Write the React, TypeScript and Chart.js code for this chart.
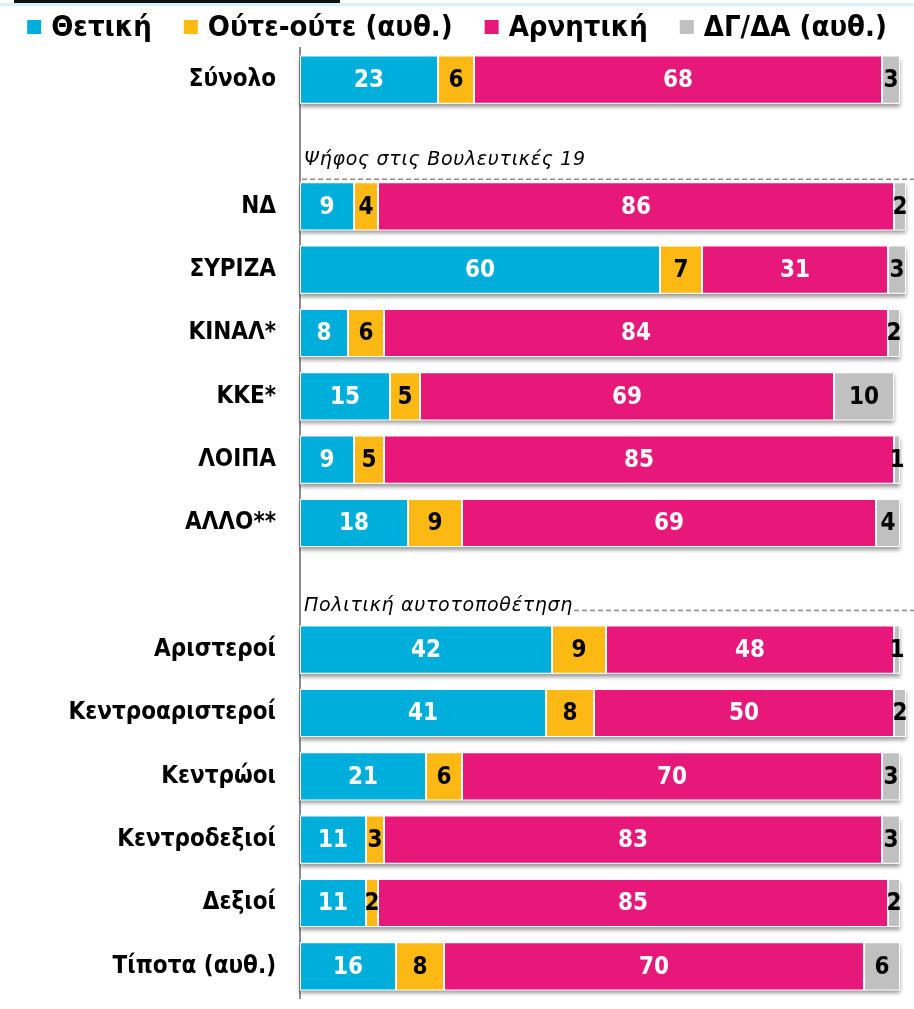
import React, { useEffect, useRef } from 'react';
import { Chart, registerables } from 'chart.js';
Chart.register(...registerables);

const categories = ['Σύνολο', '', 'ΝΔ', 'ΣΥΡΙΖΑ', 'ΚΙΝΑΛ*', 'ΚΚΕ*', 'ΛΟΙΠΑ', 'ΑΛΛΟ**', '', 'Αριστεροί', 'Κεντροαριστεροί', 'Κεντρώοι', 'Κεντροδεξιοί', 'Δεξιοί', 'Τίποτα (αυθ.)'];
const positive = [23, null, 9, 60, 8, 15, 9, 18, null, 42, 41, 21, 11, 11, 16];
const neutral = [6, null, 4, 7, 6, 5, 5, 9, null, 9, 8, 6, 3, 2, 8];
const negative = [68, null, 86, 31, 84, 69, 85, 69, null, 48, 50, 70, 83, 85, 70];
const dkna = [3, null, 2, 3, 2, 10, 1, 4, null, 1, 2, 3, 3, 2, 6];
const seriesNames = ['Θετική', 'Ούτε-ούτε (αυθ.)', 'Αρνητική', 'ΔΓ/ΔΑ (αυθ.)'];
const sectionTitles = ['Ψήφος στις Βουλευτικές 19', 'Πολιτική αυτοτοποθέτηση'];
const sectionFirstCategory = ['ΝΔ', 'Αριστεροί'];

const seriesColors = ['#00AEDB', '#FDB913', '#E8177A', '#C0C0C0'];
const valueColors = ['#ffffff', '#000000', '#ffffff', '#000000'];
const COND = '"DejaVu Sans Condensed", "DejaVu Sans", sans-serif';
const W = 914;
const H = 1009;

const legendPlugin = {
  id: 'customLegend',
  afterDraw(chart: any) {
    const ctx = chart.ctx;
    ctx.save();
    ctx.font = `bold 29px ${COND}`;
    ctx.textBaseline = 'middle';
    ctx.textAlign = 'left';
    const box = 14;
    const gapBoxText = 10;
    const gapItems = 32;
    const widths = chart.data.datasets.map((ds: any) => ctx.measureText(ds.label).width);
    const total = widths.reduce((a: number, w: number) => a + box + gapBoxText + w, 0) + gapItems * (widths.length - 1);
    let x = (chart.width - total) / 2;
    const cy = 27;
    chart.data.datasets.forEach((ds: any, i: number) => {
      ctx.fillStyle = ds.backgroundColor;
      ctx.fillRect(x, cy - 7, box, box);
      ctx.fillStyle = '#000';
      ctx.fillText(ds.label, x + box + gapBoxText, cy + 1);
      x += box + gapBoxText + widths[i] + gapItems;
    });
    ctx.restore();
  },
};

const shadowPlugin = {
  id: 'barShadow',
  beforeDatasetsDraw(chart: any) {
    const ctx = chart.ctx;
    const first = chart.getDatasetMeta(0);
    const last = chart.getDatasetMeta(chart.data.datasets.length - 1);
    first.data.forEach((bar: any, j: number) => {
      if (positive[j] == null) return;
      const b = bar.getProps(['base', 'y', 'height'], true);
      const e = last.data[j].getProps(['x'], true);
      ctx.save();
      ctx.shadowColor = 'rgba(0,0,0,0.4)';
      ctx.shadowBlur = 4;
      ctx.shadowOffsetY = 3;
      ctx.fillStyle = '#ffffff';
      ctx.fillRect(b.base, b.y - b.height / 2, e.x - b.base, b.height);
      ctx.restore();
    });
  },
};

const valueLabelPlugin = {
  id: 'valueLabels',
  afterDatasetsDraw(chart: any) {
    const ctx = chart.ctx;
    ctx.save();
    ctx.font = `bold 24px ${COND}`;
    ctx.textAlign = 'center';
    ctx.textBaseline = 'middle';
    chart.data.datasets.forEach((ds: any, i: number) => {
      const meta = chart.getDatasetMeta(i);
      meta.data.forEach((bar: any, j: number) => {
        const v = ds.data[j];
        if (v == null) return;
        const p = bar.getProps(['x', 'base', 'y'], true);
        ctx.fillStyle = valueColors[i];
        ctx.fillText(String(v), (p.x + p.base) / 2, p.y + 1);
      });
    });
    ctx.restore();
  },
};

const sectionPlugin = {
  id: 'sections',
  afterDraw(chart: any) {
    const ctx = chart.ctx;
    const y = chart.scales.y;
    const area = chart.chartArea;
    const barH = chart.getDatasetMeta(0).data[0].getProps(['height'], true).height;
    ctx.save();
    ctx.font = `oblique 19px "DejaVu Sans", sans-serif`;
    (ctx as any).letterSpacing = '0.7px';
    ctx.textBaseline = 'alphabetic';
    ctx.textAlign = 'left';
    ctx.strokeStyle = '#8a8a8a';
    ctx.lineWidth = 1.5;
    ctx.setLineDash([5, 3]);
    sectionTitles.forEach((t, k) => {
      const idx = categories.indexOf(sectionFirstCategory[k]);
      const top = y.getPixelForValue(idx) - barH / 2;
      ctx.fillStyle = '#000';
      if (k === 0) {
        ctx.fillText(t, area.left + 4, top - 17);
        ctx.beginPath();
        ctx.moveTo(area.left + 2, top - 3);
        ctx.lineTo(chart.width, top - 3);
        ctx.stroke();
      } else {
        ctx.fillText(t, area.left + 4, top - 15);
        const w = ctx.measureText(t).width;
        ctx.beginPath();
        ctx.moveTo(area.left + 4 + w + 1, top - 15);
        ctx.lineTo(chart.width, top - 15);
        ctx.stroke();
      }
    });
    ctx.restore();
  },
};

const topDecorPlugin = {
  id: 'topDecor',
  beforeDraw(chart: any) {
    const ctx = chart.ctx;
    ctx.save();
    ctx.fillStyle = '#ffffff';
    ctx.fillRect(0, 0, chart.width, chart.height);
    ctx.fillStyle = '#D6F1FB';
    ctx.fillRect(0, 3, chart.width, 3);
    ctx.fillStyle = '#111';
    ctx.fillRect(14, 0, 326, 3);
    ctx.restore();
  },
};

export default function App() {
  const ref = useRef<HTMLCanvasElement | null>(null);
  useEffect(() => {
    if (!ref.current) return;
    const values = [positive, neutral, negative, dkna];
    const chart = new Chart(ref.current, {
      type: 'bar',
      data: {
        labels: categories,
        datasets: values.map((d, i) => ({
          label: seriesNames[i],
          data: d,
          backgroundColor: seriesColors[i],
          borderColor: '#ffffff',
          borderWidth: 1,
          borderSkipped: false,
          categoryPercentage: 1,
          barPercentage: 0.76,
          clip: false,
        })),
      },
      options: {
        indexAxis: 'y',
        animation: false,
        responsive: false,
        devicePixelRatio: 1,
        layout: { padding: { left: 0, right: 14, top: 48, bottom: 11 } },
        plugins: {
          tooltip: { enabled: false },
          legend: { display: false },
        },
        scales: {
          x: { stacked: true, min: 0, max: 100, display: false },
          y: {
            stacked: true,
            grid: { display: false, drawTicks: false },
            border: { display: true, color: '#8c8c8c', width: 2 },
            ticks: {
              font: { family: COND, size: 24, weight: 'bold' },
              color: '#000',
              padding: 24,
              autoSkip: false,
            },
            afterFit: (s: any) => {
              s.width = 300;
              s.paddingTop = 0;
              s.paddingBottom = 0;
            },
          },
        },
      },
      plugins: [topDecorPlugin, shadowPlugin, valueLabelPlugin, sectionPlugin, legendPlugin],
    } as any);
    return () => chart.destroy();
  }, []);
  return (
    <div style={{ position: 'absolute', left: 0, top: 0, width: W, height: H, background: '#fff' }}>
      <canvas ref={ref} width={W} height={H} style={{ display: 'block', width: W, height: H }} />
    </div>
  );
}
